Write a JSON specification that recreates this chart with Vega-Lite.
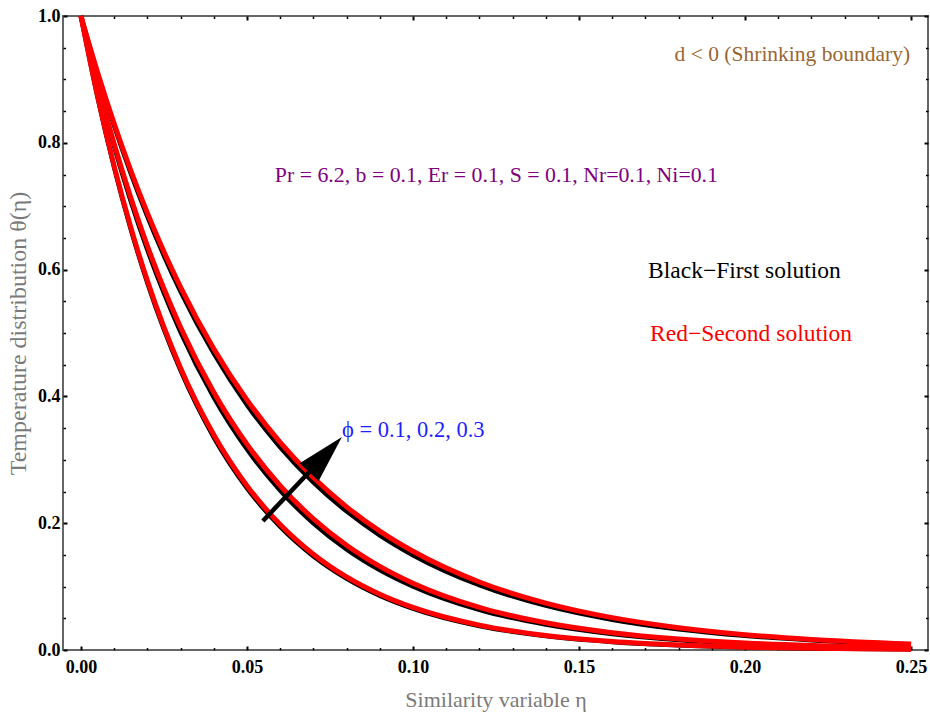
{
  "$schema": "https://vega.github.io/schema/vega-lite/v6.json",
  "width": 865,
  "height": 634,
  "autosize": {"type": "none"},
  "padding": {"left": 63, "top": 16, "right": 2, "bottom": 69},
  "background": "white",
  "config": {
    "view": {"stroke": "#666666", "strokeWidth": 2},
    "axis": {
      "domain": false,
      "grid": false,
      "labelFont": "Liberation Serif",
      "labelFontWeight": "bold",
      "labelFontSize": 18,
      "labelColor": "#000000",
      "tickColor": "#000000",
      "titleFont": "Liberation Serif",
      "titleFontWeight": "normal",
      "titleFontSize": 22,
      "titleColor": "#7a7a7a"
    }
  },
  "datasets": {
    "curves": [
      {"eta":0,"theta":1,"phi":0.1,"sol":"First"},
      {"eta":0.005,"theta":0.8724,"phi":0.1,"sol":"First"},
      {"eta":0.01,"theta":0.7611,"phi":0.1,"sol":"First"},
      {"eta":0.015,"theta":0.6640,"phi":0.1,"sol":"First"},
      {"eta":0.02,"theta":0.5793,"phi":0.1,"sol":"First"},
      {"eta":0.025,"theta":0.5054,"phi":0.1,"sol":"First"},
      {"eta":0.03,"theta":0.4409,"phi":0.1,"sol":"First"},
      {"eta":0.04,"theta":0.3355,"phi":0.1,"sol":"First"},
      {"eta":0.05,"theta":0.2554,"phi":0.1,"sol":"First"},
      {"eta":0.06,"theta":0.1944,"phi":0.1,"sol":"First"},
      {"eta":0.07,"theta":0.1479,"phi":0.1,"sol":"First"},
      {"eta":0.08,"theta":0.1126,"phi":0.1,"sol":"First"},
      {"eta":0.09,"theta":0.0857,"phi":0.1,"sol":"First"},
      {"eta":0.10,"theta":0.0652,"phi":0.1,"sol":"First"},
      {"eta":0.12,"theta":0.0378,"phi":0.1,"sol":"First"},
      {"eta":0.14,"theta":0.0219,"phi":0.1,"sol":"First"},
      {"eta":0.16,"theta":0.0127,"phi":0.1,"sol":"First"},
      {"eta":0.18,"theta":0.0073,"phi":0.1,"sol":"First"},
      {"eta":0.20,"theta":0.0043,"phi":0.1,"sol":"First"},
      {"eta":0.22,"theta":0.0025,"phi":0.1,"sol":"First"},
      {"eta":0.25,"theta":0.0011,"phi":0.1,"sol":"First"},

      {"eta":0,"theta":1,"phi":0.2,"sol":"First"},
      {"eta":0.005,"theta":0.8914,"phi":0.2,"sol":"First"},
      {"eta":0.01,"theta":0.7945,"phi":0.2,"sol":"First"},
      {"eta":0.015,"theta":0.7082,"phi":0.2,"sol":"First"},
      {"eta":0.02,"theta":0.6313,"phi":0.2,"sol":"First"},
      {"eta":0.025,"theta":0.5627,"phi":0.2,"sol":"First"},
      {"eta":0.03,"theta":0.5016,"phi":0.2,"sol":"First"},
      {"eta":0.04,"theta":0.3985,"phi":0.2,"sol":"First"},
      {"eta":0.05,"theta":0.3166,"phi":0.2,"sol":"First"},
      {"eta":0.06,"theta":0.2516,"phi":0.2,"sol":"First"},
      {"eta":0.07,"theta":0.1999,"phi":0.2,"sol":"First"},
      {"eta":0.08,"theta":0.1588,"phi":0.2,"sol":"First"},
      {"eta":0.09,"theta":0.1262,"phi":0.2,"sol":"First"},
      {"eta":0.10,"theta":0.1003,"phi":0.2,"sol":"First"},
      {"eta":0.12,"theta":0.0633,"phi":0.2,"sol":"First"},
      {"eta":0.14,"theta":0.0400,"phi":0.2,"sol":"First"},
      {"eta":0.16,"theta":0.0252,"phi":0.2,"sol":"First"},
      {"eta":0.18,"theta":0.0159,"phi":0.2,"sol":"First"},
      {"eta":0.20,"theta":0.0101,"phi":0.2,"sol":"First"},
      {"eta":0.22,"theta":0.0063,"phi":0.2,"sol":"First"},
      {"eta":0.25,"theta":0.0032,"phi":0.2,"sol":"First"},

      {"eta":0,"theta":1,"phi":0.3,"sol":"First"},
      {"eta":0.005,"theta":0.9094,"phi":0.3,"sol":"First"},
      {"eta":0.01,"theta":0.8270,"phi":0.3,"sol":"First"},
      {"eta":0.015,"theta":0.7520,"phi":0.3,"sol":"First"},
      {"eta":0.02,"theta":0.6839,"phi":0.3,"sol":"First"},
      {"eta":0.025,"theta":0.6219,"phi":0.3,"sol":"First"},
      {"eta":0.03,"theta":0.5655,"phi":0.3,"sol":"First"},
      {"eta":0.04,"theta":0.4677,"phi":0.3,"sol":"First"},
      {"eta":0.05,"theta":0.3867,"phi":0.3,"sol":"First"},
      {"eta":0.06,"theta":0.3198,"phi":0.3,"sol":"First"},
      {"eta":0.07,"theta":0.2645,"phi":0.3,"sol":"First"},
      {"eta":0.08,"theta":0.2187,"phi":0.3,"sol":"First"},
      {"eta":0.09,"theta":0.1809,"phi":0.3,"sol":"First"},
      {"eta":0.10,"theta":0.1496,"phi":0.3,"sol":"First"},
      {"eta":0.12,"theta":0.1023,"phi":0.3,"sol":"First"},
      {"eta":0.14,"theta":0.0699,"phi":0.3,"sol":"First"},
      {"eta":0.16,"theta":0.0478,"phi":0.3,"sol":"First"},
      {"eta":0.18,"theta":0.0327,"phi":0.3,"sol":"First"},
      {"eta":0.20,"theta":0.0224,"phi":0.3,"sol":"First"},
      {"eta":0.22,"theta":0.0153,"phi":0.3,"sol":"First"},
      {"eta":0.25,"theta":0.0087,"phi":0.3,"sol":"First"},

      {"eta":0,"theta":1,"phi":0.1,"sol":"Second"},
      {"eta":0.005,"theta":0.8737,"phi":0.1,"sol":"Second"},
      {"eta":0.01,"theta":0.7634,"phi":0.1,"sol":"Second"},
      {"eta":0.015,"theta":0.6670,"phi":0.1,"sol":"Second"},
      {"eta":0.02,"theta":0.5827,"phi":0.1,"sol":"Second"},
      {"eta":0.025,"theta":0.5092,"phi":0.1,"sol":"Second"},
      {"eta":0.03,"theta":0.4449,"phi":0.1,"sol":"Second"},
      {"eta":0.04,"theta":0.3396,"phi":0.1,"sol":"Second"},
      {"eta":0.05,"theta":0.2592,"phi":0.1,"sol":"Second"},
      {"eta":0.06,"theta":0.1979,"phi":0.1,"sol":"Second"},
      {"eta":0.07,"theta":0.1511,"phi":0.1,"sol":"Second"},
      {"eta":0.08,"theta":0.1153,"phi":0.1,"sol":"Second"},
      {"eta":0.09,"theta":0.0880,"phi":0.1,"sol":"Second"},
      {"eta":0.10,"theta":0.0672,"phi":0.1,"sol":"Second"},
      {"eta":0.12,"theta":0.0392,"phi":0.1,"sol":"Second"},
      {"eta":0.14,"theta":0.0228,"phi":0.1,"sol":"Second"},
      {"eta":0.16,"theta":0.0133,"phi":0.1,"sol":"Second"},
      {"eta":0.18,"theta":0.0078,"phi":0.1,"sol":"Second"},
      {"eta":0.20,"theta":0.0045,"phi":0.1,"sol":"Second"},
      {"eta":0.22,"theta":0.0026,"phi":0.1,"sol":"Second"},
      {"eta":0.25,"theta":0.0012,"phi":0.1,"sol":"Second"},

      {"eta":0,"theta":1,"phi":0.2,"sol":"Second"},
      {"eta":0.005,"theta":0.8936,"phi":0.2,"sol":"Second"},
      {"eta":0.01,"theta":0.7985,"phi":0.2,"sol":"Second"},
      {"eta":0.015,"theta":0.7136,"phi":0.2,"sol":"Second"},
      {"eta":0.02,"theta":0.6376,"phi":0.2,"sol":"Second"},
      {"eta":0.025,"theta":0.5698,"phi":0.2,"sol":"Second"},
      {"eta":0.03,"theta":0.5092,"phi":0.2,"sol":"Second"},
      {"eta":0.04,"theta":0.4066,"phi":0.2,"sol":"Second"},
      {"eta":0.05,"theta":0.3247,"phi":0.2,"sol":"Second"},
      {"eta":0.06,"theta":0.2592,"phi":0.2,"sol":"Second"},
      {"eta":0.07,"theta":0.2070,"phi":0.2,"sol":"Second"},
      {"eta":0.08,"theta":0.1653,"phi":0.2,"sol":"Second"},
      {"eta":0.09,"theta":0.1320,"phi":0.2,"sol":"Second"},
      {"eta":0.10,"theta":0.1054,"phi":0.2,"sol":"Second"},
      {"eta":0.12,"theta":0.0672,"phi":0.2,"sol":"Second"},
      {"eta":0.14,"theta":0.0429,"phi":0.2,"sol":"Second"},
      {"eta":0.16,"theta":0.0273,"phi":0.2,"sol":"Second"},
      {"eta":0.18,"theta":0.0174,"phi":0.2,"sol":"Second"},
      {"eta":0.20,"theta":0.0111,"phi":0.2,"sol":"Second"},
      {"eta":0.22,"theta":0.0071,"phi":0.2,"sol":"Second"},
      {"eta":0.25,"theta":0.0036,"phi":0.2,"sol":"Second"},

      {"eta":0,"theta":1,"phi":0.3,"sol":"Second"},
      {"eta":0.005,"theta":0.9112,"phi":0.3,"sol":"Second"},
      {"eta":0.01,"theta":0.8303,"phi":0.3,"sol":"Second"},
      {"eta":0.015,"theta":0.7565,"phi":0.3,"sol":"Second"},
      {"eta":0.02,"theta":0.6894,"phi":0.3,"sol":"Second"},
      {"eta":0.025,"theta":0.6282,"phi":0.3,"sol":"Second"},
      {"eta":0.03,"theta":0.5724,"phi":0.3,"sol":"Second"},
      {"eta":0.04,"theta":0.4752,"phi":0.3,"sol":"Second"},
      {"eta":0.05,"theta":0.3946,"phi":0.3,"sol":"Second"},
      {"eta":0.06,"theta":0.3276,"phi":0.3,"sol":"Second"},
      {"eta":0.07,"theta":0.2720,"phi":0.3,"sol":"Second"},
      {"eta":0.08,"theta":0.2258,"phi":0.3,"sol":"Second"},
      {"eta":0.09,"theta":0.1875,"phi":0.3,"sol":"Second"},
      {"eta":0.10,"theta":0.1557,"phi":0.3,"sol":"Second"},
      {"eta":0.12,"theta":0.1073,"phi":0.3,"sol":"Second"},
      {"eta":0.14,"theta":0.0740,"phi":0.3,"sol":"Second"},
      {"eta":0.16,"theta":0.0510,"phi":0.3,"sol":"Second"},
      {"eta":0.18,"theta":0.0352,"phi":0.3,"sol":"Second"},
      {"eta":0.20,"theta":0.0242,"phi":0.3,"sol":"Second"},
      {"eta":0.22,"theta":0.0167,"phi":0.3,"sol":"Second"},
      {"eta":0.25,"theta":0.0096,"phi":0.3,"sol":"Second"}
    ],
    "anchor": [{"eta": 0, "theta": 0}],
    "arrowShaft": [
      {"eta": 0.0548, "theta": 0.2035, "order": 1},
      {"eta": 0.0696, "theta": 0.2855, "order": 2}
    ],
    "arrowHead": [{"eta": 0.0786, "theta": 0.3360}],
    "noteD": [{"eta": 0.2497, "theta": 0.9385, "label": "d < 0 (Shrinking boundary)"}],
    "noteParams": [{"eta": 0.0584, "theta": 0.749, "label": "Pr = 6.2, b = 0.1, Er = 0.1, S = 0.1, Nr=0.1, Ni=0.1"}],
    "noteBlack": [{"eta": 0.1708, "theta": 0.598, "label": "Black−First solution"}],
    "noteRed": [{"eta": 0.1714, "theta": 0.498, "label": "Red−Second solution"}],
    "notePhi": [{"eta": 0.0786, "theta": 0.347, "label": "ϕ = 0.1, 0.2, 0.3"}]
  },
  "layer": [
    {
      "data": {"name": "anchor"},
      "mark": {"type": "point", "opacity": 0},
      "encoding": {
        "x": {"field": "eta", "type": "quantitative",
              "scale": {"domain": [-0.0054, 0.2551], "nice": false, "zero": false},
              "axis": {"orient": "bottom", "values": [0, 0.05, 0.1, 0.15, 0.2, 0.25], "format": ".2f",
                       "tickSize": -4, "tickWidth": 2, "labelPadding": 12, "labelBaseline": "top",
                       "title": "Similarity variable η", "titlePadding": 13}},
        "y": {"field": "theta", "type": "quantitative",
              "scale": {"domain": [0, 1], "nice": false, "zero": false},
              "axis": {"orient": "left", "values": [0, 0.2, 0.4, 0.6, 0.8, 1], "format": ".1f",
                       "tickSize": -4, "tickWidth": 2, "labelPadding": 7,
                       "title": "Temperature distribution θ(η)", "titlePadding": 7, "titleFontSize": 24}}
      }
    },
    {
      "data": {"name": "anchor"},
      "mark": {"type": "point", "opacity": 0},
      "encoding": {
        "x": {"field": "eta", "type": "quantitative",
              "axis": {"orient": "bottom", "values": [0.01,0.02,0.03,0.04,0.06,0.07,0.08,0.09,0.11,0.12,0.13,0.14,0.16,0.17,0.18,0.19,0.21,0.22,0.23,0.24],
                       "labels": false, "tickSize": -2.5, "tickWidth": 1.5, "title": null}},
        "y": {"field": "theta", "type": "quantitative",
              "axis": {"orient": "left", "values": [0.05,0.1,0.15,0.25,0.3,0.35,0.45,0.5,0.55,0.65,0.7,0.75,0.85,0.9,0.95],
                       "labels": false, "tickSize": -2.5, "tickWidth": 1.5, "title": null}}
      }
    },
    {
      "data": {"name": "anchor"},
      "mark": {"type": "point", "opacity": 0},
      "encoding": {
        "x": {"field": "eta", "type": "quantitative",
              "axis": {"orient": "top", "values": [0, 0.05, 0.1, 0.15, 0.2, 0.25],
                       "labels": false, "tickSize": -4, "tickWidth": 2, "title": null}},
        "y": {"field": "theta", "type": "quantitative",
              "axis": {"orient": "right", "values": [0, 0.2, 0.4, 0.6, 0.8, 1],
                       "labels": false, "tickSize": -4, "tickWidth": 2, "title": null}}
      }
    },
    {
      "data": {"name": "anchor"},
      "mark": {"type": "point", "opacity": 0},
      "encoding": {
        "x": {"field": "eta", "type": "quantitative",
              "axis": {"orient": "top", "values": [0.01,0.02,0.03,0.04,0.06,0.07,0.08,0.09,0.11,0.12,0.13,0.14,0.16,0.17,0.18,0.19,0.21,0.22,0.23,0.24],
                       "labels": false, "tickSize": -2.5, "tickWidth": 1.5, "title": null}},
        "y": {"field": "theta", "type": "quantitative",
              "axis": {"orient": "right", "values": [0.05,0.1,0.15,0.25,0.3,0.35,0.45,0.5,0.55,0.65,0.7,0.75,0.85,0.9,0.95],
                       "labels": false, "tickSize": -2.5, "tickWidth": 1.5, "title": null}}
      }
    },
    {
      "data": {"name": "curves"},
      "transform": [{"filter": "datum.sol === 'First'"}],
      "mark": {"type": "line", "color": "#000000", "strokeWidth": 4.5, "interpolate": "monotone", "strokeCap": "butt"},
      "encoding": {
        "x": {"field": "eta", "type": "quantitative", "axis": null},
        "y": {"field": "theta", "type": "quantitative", "axis": null},
        "detail": {"field": "phi", "type": "nominal"},
        "order": {"field": "eta", "type": "quantitative"}
      }
    },
    {
      "data": {"name": "curves"},
      "transform": [{"filter": "datum.sol === 'Second'"}],
      "mark": {"type": "line", "color": "#ff0000", "strokeWidth": 5, "interpolate": "monotone", "strokeCap": "butt"},
      "encoding": {
        "x": {"field": "eta", "type": "quantitative", "axis": null},
        "y": {"field": "theta", "type": "quantitative", "axis": null},
        "detail": {"field": "phi", "type": "nominal"},
        "order": {"field": "eta", "type": "quantitative"}
      }
    },
    {
      "data": {"name": "arrowShaft"},
      "mark": {"type": "line", "color": "#000000", "strokeWidth": 4.5, "strokeCap": "butt"},
      "encoding": {
        "x": {"field": "eta", "type": "quantitative", "axis": null},
        "y": {"field": "theta", "type": "quantitative", "axis": null},
        "order": {"field": "order", "type": "quantitative"}
      }
    },
    {
      "data": {"name": "arrowHead"},
      "mark": {"type": "point", "shape": "M0,0L0.54,2L-0.54,2Z", "size": 2304, "angle": 43, "filled": true, "color": "#000000", "opacity": 1, "strokeWidth": 0},
      "encoding": {
        "x": {"field": "eta", "type": "quantitative", "axis": null},
        "y": {"field": "theta", "type": "quantitative", "axis": null}
      }
    },
    {
      "data": {"name": "noteD"},
      "mark": {"type": "text", "align": "right", "baseline": "middle", "font": "Liberation Serif", "fontSize": 21.5, "color": "#996633"},
      "encoding": {
        "x": {"field": "eta", "type": "quantitative", "axis": null},
        "y": {"field": "theta", "type": "quantitative", "axis": null},
        "text": {"field": "label"}
      }
    },
    {
      "data": {"name": "noteParams"},
      "mark": {"type": "text", "align": "left", "baseline": "middle", "font": "Liberation Serif", "fontSize": 21.8, "color": "#800080"},
      "encoding": {
        "x": {"field": "eta", "type": "quantitative", "axis": null},
        "y": {"field": "theta", "type": "quantitative", "axis": null},
        "text": {"field": "label"}
      }
    },
    {
      "data": {"name": "noteBlack"},
      "mark": {"type": "text", "align": "left", "baseline": "middle", "font": "Liberation Serif", "fontSize": 23.5, "color": "#000000"},
      "encoding": {
        "x": {"field": "eta", "type": "quantitative", "axis": null},
        "y": {"field": "theta", "type": "quantitative", "axis": null},
        "text": {"field": "label"}
      }
    },
    {
      "data": {"name": "noteRed"},
      "mark": {"type": "text", "align": "left", "baseline": "middle", "font": "Liberation Serif", "fontSize": 23.5, "color": "#ff0000"},
      "encoding": {
        "x": {"field": "eta", "type": "quantitative", "axis": null},
        "y": {"field": "theta", "type": "quantitative", "axis": null},
        "text": {"field": "label"}
      }
    },
    {
      "data": {"name": "notePhi"},
      "mark": {"type": "text", "align": "left", "baseline": "middle", "font": "Liberation Serif", "fontSize": 22.5, "color": "#1f1fff"},
      "encoding": {
        "x": {"field": "eta", "type": "quantitative", "axis": null},
        "y": {"field": "theta", "type": "quantitative", "axis": null},
        "text": {"field": "label"}
      }
    }
  ],
  "resolve": {"axis": {"x": "independent", "y": "independent"}}
}
